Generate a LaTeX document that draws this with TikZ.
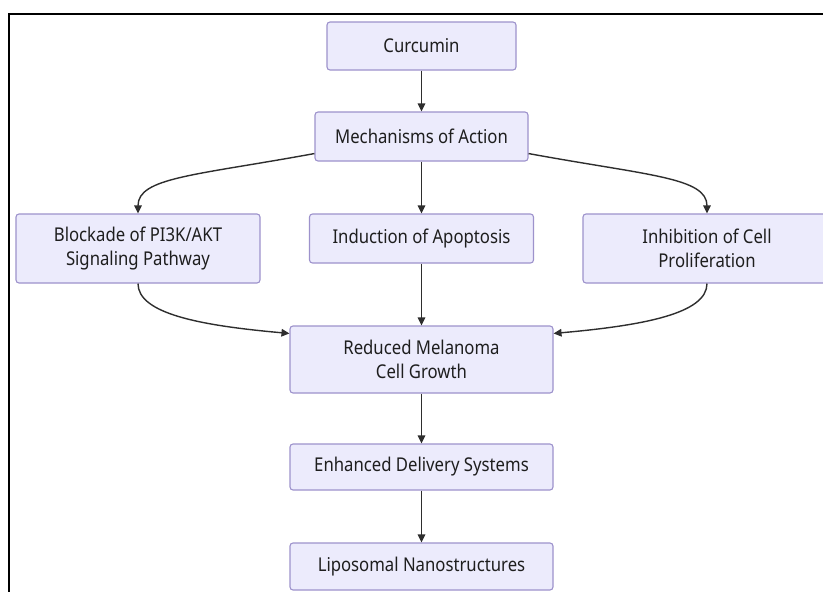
\documentclass[tikz,border=0pt]{standalone}
\usepackage{fontspec}
\setmainfont{Noto Sans}[FakeStretch=0.88]
\usetikzlibrary{arrows.meta}

\definecolor{boxfill}{HTML}{ECEBFC}
\definecolor{boxline}{HTML}{9D92CC}
\definecolor{edgecol}{HTML}{2E2E2E}
\definecolor{textcol}{HTML}{1E1E1E}

\tikzset{
  flowbox/.style={draw=boxline, fill=boxfill, line width=1.1pt, rounded corners=3pt,
    align=center, text=textcol, inner sep=0pt,
    font=\fontsize{19}{23.5}\selectfont},
  flow/.style={draw=edgecol, line width=1.4pt, -{Triangle[length=8pt,width=7.5pt]}},
}

\begin{document}
\begin{tikzpicture}[x=1pt, y=-1pt]
  \useasboundingbox (0,0) rectangle (823,592);
  \clip (0,0) rectangle (823,592);
  \fill[white] (0,0) rectangle (823,592);

  % frame (top and left edges)
  \draw[line width=2pt, black] (9,592) -- (9,14) -- (823,14);

  % nodes
  \node[flowbox, minimum width=189pt, minimum height=48pt] (cur) at (421.5,46) {Curcumin};
  \node[flowbox, minimum width=213pt, minimum height=49pt] (mech) at (421.5,136.5) {Mechanisms of Action};
  \node[flowbox, minimum width=244pt, minimum height=69pt] (block) at (138,248.5) {Blockade of PI3K/AKT\\Signaling Pathway};
  \node[flowbox, minimum width=224pt, minimum height=49pt] (induc) at (421.5,238.5) {Induction of Apoptosis};
  \node[flowbox, minimum width=248pt, minimum height=69pt] (inhib) at (707,248.5) {Inhibition of Cell\\Proliferation};
  \node[flowbox, minimum width=263pt, minimum height=67pt] (red) at (421.5,359.5) {Reduced Melanoma\\Cell Growth};
  \node[flowbox, minimum width=263pt, minimum height=46pt] (enh) at (421.5,467) {Enhanced Delivery Systems};
  \node[flowbox, minimum width=263pt, minimum height=47pt] (lipo) at (421.5,566.5) {Liposomal Nanostructures};

  % attachment points on the sides of the boxes
  \coordinate (ml) at ([yshift=8pt]mech.south west);
  \coordinate (mr) at ([yshift=8pt]mech.south east);
  \coordinate (rl) at ([yshift=-8pt]red.north west);
  \coordinate (rr) at ([yshift=-8pt]red.north east);

  % connectors
  \draw[flow] (cur) -- (mech);
  \draw[flow] (mech) -- (induc);
  \draw[flow] (ml) .. controls +(-120,22) and +(0,-36) .. (block.north);
  \draw[flow] (mr) .. controls +(120,22) and +(0,-36) .. (inhib.north);
  \draw[flow] (induc) -- (red);
  \draw[flow] (block.south) .. controls +(0,30) and +(-90,-8) .. (rl);
  \draw[flow] (inhib.south) .. controls +(0,30) and +(90,-8) .. (rr);
  \draw[flow] (red) -- (enh);
  \draw[flow] (enh) -- (lipo);
\end{tikzpicture}
\end{document}
